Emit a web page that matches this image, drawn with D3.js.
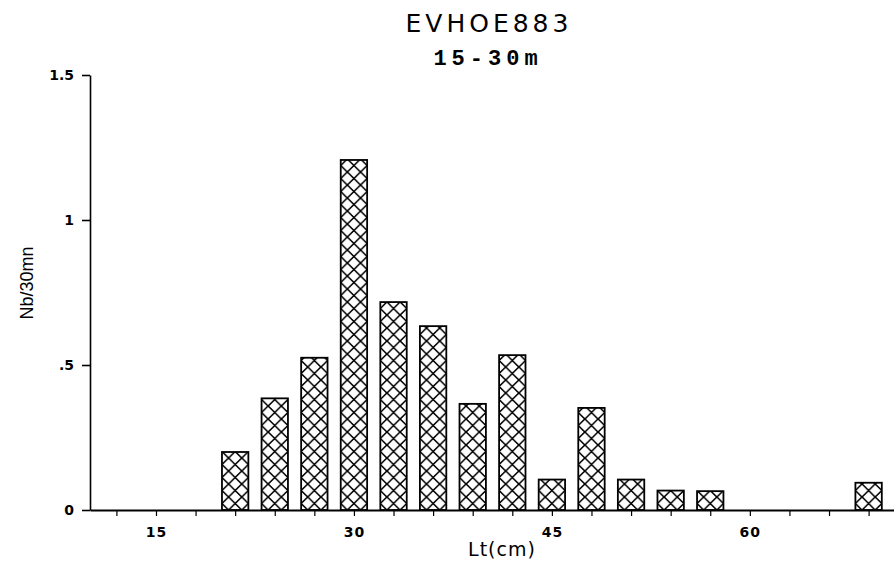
<!DOCTYPE html>
<html>
<head>
<meta charset="utf-8">
<script src="https://cdn.jsdelivr.net/npm/d3@7"></script>
<style>
  body { margin: 0; background: #fff; }
  svg { display: block; }
  .axis text { font-family: "DejaVu Sans", Arial, sans-serif; font-weight: bold; font-size: 14px; fill: #000; }
  .axis path, .axis line { stroke: #000; }
</style>
</head>
<body>
<svg id="chart" width="894" height="572"></svg>
<script>
var lengths = [21, 24, 27, 30, 33, 36, 39, 42, 45, 48, 51, 54, 57, 69];
var counts = [0.20, 0.385, 0.525, 1.207, 0.717, 0.634, 0.366, 0.534, 0.105, 0.352, 0.105, 0.067, 0.065, 0.094];
var yTicks = [0, 0.5, 1, 1.5];
var yTickLabels = ["0", ".5", "1", "1.5"];
var xTicks = d3.range(12, 70, 3);
var xTickLabels = [15, 30, 45, 60];

var svg = d3.select("#chart");

var x = d3.scaleLinear().domain([10, 71]).range([90, 895]);
var y = d3.scaleLinear().domain([0, 1.5]).range([510, 75]);
var barW = x(2) - x(0);

// cross-hatch pattern, lined up with the bar centres
var defs = svg.append("defs");
var pat = defs.append("pattern")
  .attr("id", "hatch")
  .attr("patternUnits", "userSpaceOnUse")
  .attr("x", x(21) - barW / 4)
  .attr("y", y(0))
  .attr("width", barW / 2)
  .attr("height", 13);
pat.append("rect").attr("width", barW / 2).attr("height", 13).attr("fill", "#fff");
pat.append("path")
  .attr("d", "M0,0L" + (barW / 2) + ",13M" + (barW / 2) + ",0L0,13")
  .attr("stroke", "#000")
  .attr("stroke-width", 1.6)
  .attr("fill", "none");

svg.selectAll("rect.bar")
  .data(lengths)
  .enter().append("rect")
    .attr("class", "bar")
    .attr("x", function (d) { return x(d - 1); })
    .attr("y", function (d, i) { return y(counts[i]); })
    .attr("width", barW)
    .attr("height", function (d, i) { return y(0) - y(counts[i]); })
    .attr("fill", "url(#hatch)")
    .attr("stroke", "#000")
    .attr("stroke-width", 1.8);

// axes
var xAxis = svg.append("g")
  .attr("class", "axis")
  .attr("transform", "translate(0," + y(0) + ")")
  .call(d3.axisBottom(x)
    .tickValues(xTicks)
    .tickSize(6)
    .tickSizeOuter(0)
    .tickPadding(11)
    .tickFormat(function (d) { return xTickLabels.indexOf(d) >= 0 ? d : ""; }));
xAxis.select(".domain").attr("stroke-width", 1.8);
xAxis.selectAll(".tick line").attr("stroke-width", 1.2);
xAxis.selectAll(".tick text").style("letter-spacing", "1px");

var yAxis = svg.append("g")
  .attr("class", "axis")
  .attr("transform", "translate(" + x(10) + ",0)")
  .call(d3.axisLeft(y)
    .tickValues(yTicks)
    .tickSize(8)
    .tickSizeOuter(0)
    .tickPadding(8)
    .tickFormat(function (d, i) { return yTickLabels[i]; }));
yAxis.select(".domain").attr("stroke-width", 1.6);
yAxis.selectAll(".tick line").attr("stroke-width", 1.6);

// titles
svg.append("text")
  .attr("x", 489)
  .attr("y", 32)
  .attr("text-anchor", "middle")
  .style("font", "25px 'DejaVu Sans', Arial, sans-serif")
  .style("letter-spacing", "4px")
  .text("EVHOE883");

svg.append("text")
  .attr("x", 488)
  .attr("y", 65)
  .attr("text-anchor", "middle")
  .style("font", "bold 22px 'Liberation Mono', monospace")
  .style("letter-spacing", "5px")
  .text("15-30m");

svg.append("text")
  .attr("x", 502)
  .attr("y", 556)
  .attr("text-anchor", "middle")
  .style("font", "19px 'DejaVu Sans', Arial, sans-serif")
  .style("letter-spacing", "1px")
  .text("Lt(cm)");

svg.append("text")
  .attr("transform", "translate(33,283) rotate(-90)")
  .attr("text-anchor", "middle")
  .style("font", "18px 'Liberation Sans', Arial, sans-serif")
  .text("Nb/30mn");
</script>
</body>
</html>
